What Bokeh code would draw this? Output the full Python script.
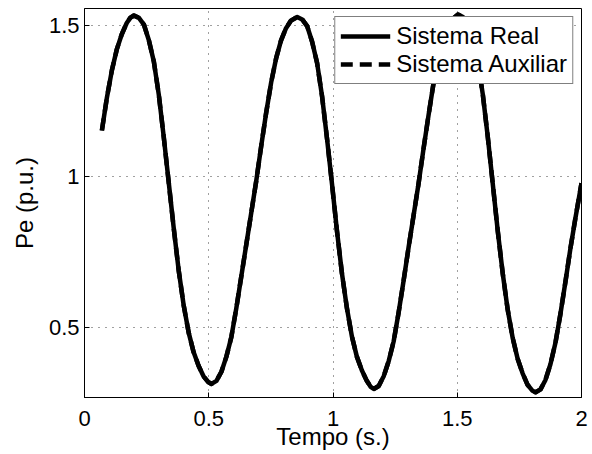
from bokeh.plotting import figure
from bokeh.models import Range1d, FixedTicker, Legend, LegendItem
from bokeh.embed import file_html
from bokeh.resources import INLINE

# ---- data ----
tempo = [0.070, 0.090, 0.110, 0.130, 0.150, 0.170, 0.185, 0.199,
         0.219, 0.239, 0.259, 0.279, 0.299, 0.319, 0.339, 0.359, 0.379, 0.399,
         0.419, 0.439, 0.459, 0.479, 0.499, 0.511,
         0.531, 0.551, 0.571, 0.591, 0.611, 0.631, 0.651, 0.671, 0.691, 0.711,
         0.731, 0.751, 0.771, 0.791, 0.811, 0.831, 0.856,
         0.876, 0.896, 0.916, 0.936, 0.956, 0.976, 0.996, 1.016, 1.036, 1.056,
         1.076, 1.096, 1.116, 1.136, 1.152, 1.164,
         1.184, 1.204, 1.224, 1.244, 1.264, 1.284, 1.304, 1.324, 1.344, 1.364,
         1.384, 1.404, 1.424, 1.444, 1.464, 1.484, 1.503,
         1.523, 1.543, 1.563, 1.583, 1.603, 1.623, 1.643, 1.663, 1.683, 1.703,
         1.723, 1.743, 1.763, 1.783, 1.803, 1.815,
         1.835, 1.855, 1.875, 1.895, 1.915, 1.935, 1.955, 1.975, 2.000]

pe_real = [1.152, 1.26, 1.35, 1.42, 1.47, 1.507, 1.525, 1.532,
           1.524, 1.502, 1.45, 1.38, 1.27, 1.13, 0.98, 0.83, 0.69, 0.575,
           0.485, 0.42, 0.375, 0.34, 0.32, 0.315,
           0.325, 0.355, 0.405, 0.47, 0.565, 0.67, 0.775, 0.88, 0.985, 1.10,
           1.21, 1.31, 1.39, 1.45, 1.49, 1.515, 1.527,
           1.519, 1.497, 1.445, 1.375, 1.265, 1.125, 0.975, 0.82, 0.68, 0.565,
           0.472, 0.405, 0.36, 0.325, 0.305, 0.298,
           0.308, 0.34, 0.39, 0.455, 0.55, 0.655, 0.765, 0.87, 0.975, 1.09,
           1.20, 1.305, 1.385, 1.45, 1.495, 1.522, 1.535,
           1.527, 1.505, 1.452, 1.38, 1.27, 1.13, 0.975, 0.82, 0.68, 0.56,
           0.467, 0.398, 0.35, 0.312, 0.292, 0.287,
           0.297, 0.328, 0.38, 0.45, 0.545, 0.65, 0.76, 0.86, 0.978]

# the auxiliary system curve lies on top of the real one in the picture
pe_aux = list(pe_real)

series_labels = ["Sistema Real", "Sistema Auxiliar"]

x_ticks = [0, 0.5, 1, 1.5, 2]
x_tick_labels = ["0", "0.5", "1", "1.5", "2"]
y_ticks = [0.5, 1, 1.5]
y_tick_labels = ["0.5", "1", "1.5"]

FONT = "Liberation Sans"

p = figure(width=592, height=454, output_backend="svg", toolbar_location=None,
           x_range=Range1d(0, 2), y_range=Range1d(0.27, 1.555),
           min_border_left=84, min_border_right=11, min_border_top=8,
           min_border_bottom=57,
           x_axis_label="Tempo (s.)", y_axis_label="Pe (p.u.)")
p.background_fill_color = "white"
p.border_fill_color = "white"
p.outline_line_color = "black"
p.outline_line_width = 1
p.outline_line_alpha = 1

r_real = p.line(tempo, pe_real, line_color="black", line_width=4.5, line_join="round")
r_aux = p.line(tempo, pe_aux, line_color="black", line_width=4.5, line_join="round",
               line_dash="12 7")


def style_axis(ax, ticks, labels):
    ax.ticker = FixedTicker(ticks=ticks)
    ax.axis_line_color = "black"
    ax.axis_line_width = 1
    ax.major_tick_line_color = "black"
    ax.major_tick_in = 5
    ax.major_tick_out = 0
    ax.minor_tick_line_color = None
    ax.major_label_overrides = {float(v): s for v, s in zip(ticks, labels)}
    ax.major_label_text_font = FONT
    ax.major_label_text_font_size = "22px"
    ax.major_label_text_color = "black"
    ax.axis_label_text_font = FONT
    ax.axis_label_text_font_size = "24px"
    ax.axis_label_text_font_style = "normal"
    ax.axis_label_text_color = "black"


style_axis(p.xaxis[0], x_ticks, x_tick_labels)
style_axis(p.yaxis[0], y_ticks, y_tick_labels)
p.xaxis[0].major_label_standoff = 13
p.xaxis[0].axis_label_standoff = -6
p.yaxis[0].major_label_standoff = 5
p.yaxis[0].axis_label_standoff = 8

p.grid.grid_line_color = "black"
p.grid.grid_line_alpha = 0.75
p.grid.grid_line_width = 1
p.grid.grid_line_dash = "1 6"

legend = Legend(items=[LegendItem(label=series_labels[0], renderers=[r_real]),
                       LegendItem(label=series_labels[1], renderers=[r_aux])],
                location="top_right")
legend.margin = 8
legend.padding = 5
legend.spacing = 0
legend.glyph_width = 50
legend.glyph_height = 20
legend.label_standoff = 6
legend.label_text_font = FONT
legend.label_text_font_size = "24px"
legend.label_text_color = "black"
legend.border_line_color = "black"
legend.border_line_width = 1
legend.background_fill_color = "white"
legend.background_fill_alpha = 1
p.add_layout(legend)

open("out.html", "w").write(file_html(p, INLINE))
